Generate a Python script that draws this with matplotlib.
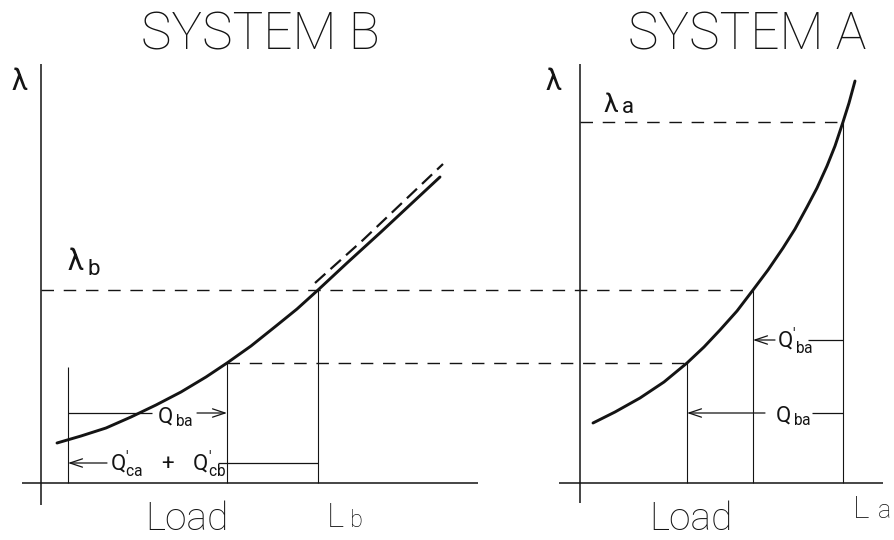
import matplotlib.pyplot as plt

plt.rcParams['font.family'] = ['Lato', 'DejaVu Sans']
plt.rcParams['lines.scale_dashes'] = False

INK = '#141414'
THIN = ['Roboto', 'Lato', 'DejaVu Sans']

# System B: lambda against load, present curve and shifted curve (dashed)
load_b = [16, 40, 65, 90, 115, 140, 165, 186, 210, 235, 256, 277, 306, 340, 370, 399]
lam_b = [40, 47, 55, 66, 78, 91, 106, 120, 137, 157, 174, 193, 220, 251, 279, 306]
load_b_shift = [274, 322, 362, 402]
lam_b_shift = [200, 243, 281, 319]

# System A: lambda against load
load_a = [13, 35, 60, 84, 107, 124, 140, 157, 173, 188, 203, 215, 227, 237,
          247, 255, 263, 269, 275]
lam_a = [60, 71, 85, 101, 120, 136, 153, 172, 193, 213, 235, 254, 276, 295,
         317, 337, 361, 380, 402]

# operating points
lam_b_op = 193
lam_low = 120
lam_a_op = 361
L_b = 277
L_a = 263
load_b_start = 27
load_b_low = 186
load_a_low = 107
load_a_mid = 173

# where each panel's origin sits along the shared horizontal scale
B0 = 41
A0 = 580

fig = plt.figure(figsize=(8.95, 5.4), dpi=100)
ax = fig.add_axes([0, 0, 1, 1])
ax.set_xlim(0, 895)
ax.set_ylim(-57, 483)
ax.axis('off')


def bx(v):
    return B0 + v


def axa(v):
    return A0 + v


def line(xs, ys, lw=0.8, **kw):
    ax.plot(xs, ys, color=INK, lw=lw, solid_capstyle='butt', **kw)


def dashed(x1, x2, y):
    ax.plot([x1, x2], [y, y], color=INK, lw=1.0, ls=(0, (9, 7)))


def arrow(x_tail, x_head, y):
    ax.annotate('', xy=(x_head, y), xytext=(x_tail, y),
                arrowprops=dict(arrowstyle='->,head_length=0.9,head_width=0.3',
                                lw=0.9, color=INK, shrinkA=0, shrinkB=0))


def put(x, y, s, size, ha='left', weight='light'):
    ax.text(x, y, s, fontsize=size, ha=ha, va='baseline', color=INK,
            family=THIN, weight=weight)


# axes of both panels
line([B0, B0], [-22, 419], lw=1.1)
line([B0 - 19, B0 + 437], [0, 0], lw=1.1)
line([A0, A0], [-20, 419], lw=1.1)
line([A0 - 21, A0 + 303], [0, 0], lw=1.1)

# dashed lambda levels
dashed(B0, axa(load_a_mid), lam_b_op)
dashed(bx(load_b_low), axa(load_a_low), lam_low)
dashed(A0, axa(L_a), lam_a_op)

# load markers
line([bx(load_b_start)] * 2, [0, 116])
line([bx(load_b_low)] * 2, [0, lam_low])
line([bx(L_b)] * 2, [0, lam_b_op])
line([axa(load_a_low)] * 2, [0, lam_low])
line([axa(load_a_mid)] * 2, [0, lam_b_op])
line([axa(L_a)] * 2, [0, lam_a_op])

# curves
ax.plot([bx(v) for v in load_b], lam_b, color=INK, lw=2.1,
        solid_capstyle='round', solid_joinstyle='round')
ax.plot([bx(v) for v in load_b_shift], lam_b_shift, color=INK, lw=1.6,
        ls=(0, (10, 5)))
ax.plot([axa(v) for v in load_a], lam_a, color=INK, lw=2.1,
        solid_capstyle='round', solid_joinstyle='round')

# flow arrows in system B
line([bx(27), bx(111)], [70, 70], lw=0.9)
arrow(bx(156), bx(load_b_low), 70)
arrow(bx(66), bx(load_b_start), 20)
line([bx(177), bx(L_b)], [20, 20], lw=0.9)

# flow arrows in system A
arrow(axa(195), axa(load_a_mid), 143)
line([axa(228), axa(L_a)], [143, 143], lw=0.9)
arrow(axa(185), axa(load_a_low), 70)
line([axa(232), axa(L_a)], [70, 70], lw=0.9)

# titles and axis labels
put(260, 433, 'SYSTEM B', 37, ha='center')
put(747, 433, 'SYSTEM A', 37, ha='center')
put(20, 393, 'λ', 21, ha='center', weight='normal')
put(554, 393, 'λ', 21, ha='center', weight='normal')
put(68, 213, 'λ', 21, weight='normal')
put(88, 208, 'b', 16, weight='normal')
put(603, 371, 'λ', 19, weight='normal')
put(622, 370, 'a', 16, weight='normal')
put(187, -47, 'Load', 28, ha='center')
put(691, -47, 'Load', 28, ha='center')
put(327, -44, 'L', 24)
put(350, -44, 'b', 17)
put(853, -35, 'L', 23)
put(878, -35, 'a', 18)

# flow labels
put(157, 60, r'$\mathregular{Q_{\,ba}}$', 16, weight='normal')
put(110, 12, r'$\mathregular{Q_{ca}^{\prime}\ \ +\ \ Q_{cb}^{\prime}}$', 16,
    weight='normal')
put(777, 135, r'$\mathregular{Q_{\,ba}^{\prime}}$', 16, weight='normal')
put(775, 61, r'$\mathregular{Q_{\,ba}}$', 16, weight='normal')

fig.savefig('out.png', dpi=100)
